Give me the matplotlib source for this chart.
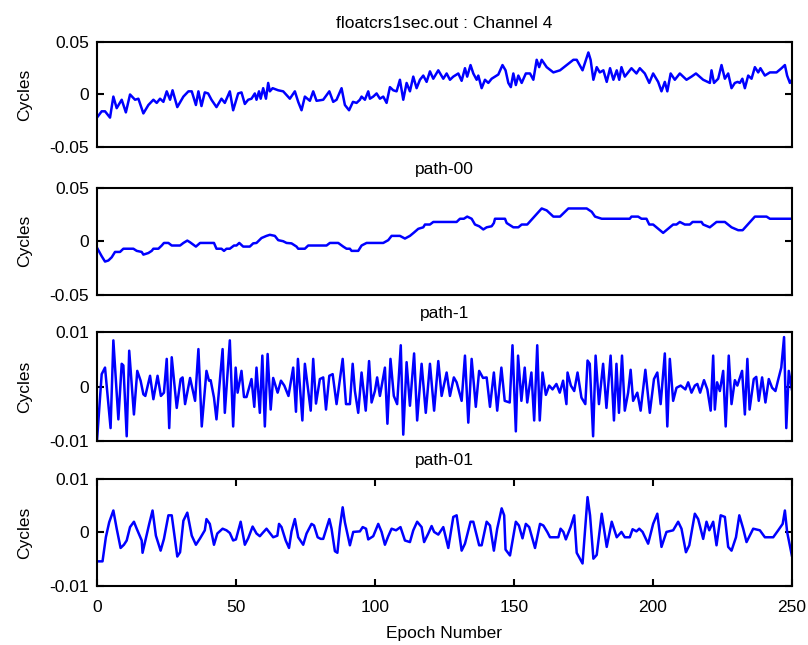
import numpy as np
import matplotlib
matplotlib.use('Agg')
import matplotlib.pyplot as plt

# values (epoch, cycles)
ep1 = [0, 1.7, 2.9, 4.7, 5.9, 7.1, 8.9, 10.4, 11.9, 13.7,
       14.9, 16.7, 18.5, 20.3, 21.5, 22.7, 23.9, 25.1, 26.3, 27.2,
       28.9, 31.1, 32.9, 34.1, 35.6, 36.5, 37.6, 38.8, 40.0, 41.2,
       43.0, 44.8, 46.0, 47.8, 49.0, 50.8, 52.0, 53.2, 54.4, 55.6,
       56.8, 57.4, 58.3, 58.9, 59.8, 60.8, 61.6, 62.2, 63.2, 65.2,
       67.0, 69.4, 71.2, 72.4, 73.6, 74.8, 76.6, 77.8, 79.0, 81.4,
       83.6, 85.0, 86.2, 88.0, 89.2, 90.7, 92.1, 93.4, 94.6, 95.2,
       96.4, 97.6, 98.2, 99.4, 100.6, 101.8, 103.0, 104.2, 105.4, 106.6,
       107.8, 109.0, 110.2, 111.4, 112.6, 113.8, 115.0, 116.2, 117.4, 118.6,
       119.8, 121.0, 122.8,
       124.6, 125.8, 127.0, 128.2, 130.0, 131.2, 132.4, 133.2, 134.4, 135.4,
       136.6, 137.2, 138.4, 139.6, 140.8, 142.0, 143.2, 144.4, 145.9, 147.0,
       148.0, 148.9, 149.8, 150.7, 151.6, 152.8, 154.3, 155.8, 157.0, 158.2,
       159.1, 160.0, 161.8, 164.2, 166.6, 169.0, 171.4, 172.6, 174.7, 176.8,
       177.6, 178.6, 179.8, 180.9, 182.2, 183.4, 184.6, 185.8, 187.0, 187.9,
       188.7, 189.9, 191.1, 192.3, 194.1, 195.3, 197.1, 198.7, 200.1, 201.9,
       203.1, 204.3, 205.2, 206.4, 207.9, 209.7, 212.1, 213.9, 215.5, 218.1,
       220.5, 221.1, 222.0, 223.5, 224.7, 225.9, 227.1, 228.3, 229.5, 230.5,
       231.3, 232.2, 233.1, 234.3, 235.5, 236.7, 237.9, 238.7, 240.3, 242.1,
       244.5, 246.3, 247.5, 248.3, 249.3, 250]
cyc1 = [-0.022, -0.016, -0.016, -0.022, -0.002, -0.013, -0.005, -0.017, 0.000, -0.005,
        -0.004, -0.018, -0.010, -0.005, -0.008, -0.004, -0.007, 0.003, -0.005, 0.004,
        -0.012, -0.002, 0.003, 0.003, -0.010, 0.003, -0.011, 0.002, 0.001, -0.005,
        -0.012, -0.004, -0.008, 0.003, -0.015, 0.001, 0.002, -0.009, -0.005, -0.004,
        0.001, -0.005, 0.003, -0.004, 0.006, -0.004, 0.011, 0.003, 0.006, 0.004,
        0.003, -0.004, 0.003, -0.007, -0.015, -0.002, -0.006, 0.003, -0.006, -0.005,
        0.003, -0.007, -0.005, 0.006, -0.010, -0.015, -0.007, -0.008, -0.005, -0.002,
        -0.005, 0.003, -0.004, -0.002, 0.001, -0.004, -0.002, -0.008, 0.007, 0.004,
        0.003, 0.014, -0.005, 0.011, 0.003, 0.017, 0.006, 0.014, 0.018, 0.012,
        0.022, 0.015, 0.023,
        0.015, 0.020, 0.014, 0.017, 0.020, 0.013, 0.025, 0.017, 0.028, 0.020,
        0.014, 0.018, 0.006, 0.014, 0.011, 0.015, 0.017, 0.019, 0.028, 0.023,
        0.011, 0.007, 0.020, 0.009, 0.018, 0.011, 0.020, 0.020, 0.014, 0.033,
        0.026, 0.033, 0.026, 0.021, 0.023, 0.028, 0.033, 0.033, 0.023, 0.040,
        0.033, 0.014, 0.026, 0.021, 0.023, 0.012, 0.025, 0.014, 0.023, 0.014,
        0.026, 0.017, 0.021, 0.025, 0.020, 0.025, 0.020, 0.011, 0.020, 0.012,
        0.003, 0.012, 0.003, 0.020, 0.014, 0.020, 0.014, 0.017, 0.020, 0.014,
        0.011, 0.023, 0.011, 0.015, 0.028, 0.015, 0.020, 0.006, 0.011, 0.012,
        0.011, 0.015, 0.006, 0.018, 0.015, 0.026, 0.021, 0.025, 0.018, 0.021,
        0.021, 0.025, 0.028, 0.018, 0.011, 0.014]

ep2 = [0, 1.7, 2.9, 4.1, 5.3, 6.5, 8.3, 9.5, 13.1, 14.3,
       16.1, 16.7, 18.5, 19.7, 20.3, 22.1, 23.3, 24.1, 25.7, 26.9,
       29.9, 31.1, 32.5, 33.5, 35.6, 37.1, 42.1, 43.0, 44.8, 45.7,
       46.6, 47.8, 49.3, 50.2, 51.2, 52.6, 55.0, 56.2, 57.4, 59.2,
       61.0, 62.2, 64.0, 65.2, 67.0, 68.2, 70.0, 71.8, 72.4, 74.8,
       76.0, 82.6, 83.8, 86.8, 88.6, 89.8, 91.0, 91.6, 94.0, 95.2,
       97.0, 103.0, 104.8, 106.0, 109.0, 110.8, 112.6, 114.0, 115.6, 117.4,
       118.0, 119.8, 121.0,
       129.4, 130.6, 132.0, 133.2, 134.8, 136.0, 137.5, 139.0, 140.2, 142.0,
       142.8, 143.2, 146.8, 147.4, 149.8, 151.6, 152.8, 154.8, 160.0, 161.8,
       164.2, 166.6, 169.6, 176.2, 178.0, 179.2, 181.6, 191.7, 192.3, 194.7,
       195.9, 197.7, 198.7, 200.1, 203.7, 207.3, 208.5, 209.7, 211.5, 213.3,
       214.3, 217.5, 218.1, 220.5, 222.9, 225.9, 228.3, 230.7, 232.3, 236.7,
       240.9, 242.1, 250]
cyc2 = [-0.006, -0.014, -0.019, -0.018, -0.015, -0.010, -0.010, -0.007, -0.007, -0.009,
        -0.010, -0.0125, -0.011, -0.009, -0.007, -0.007, -0.004, -0.0016, -0.0016, -0.004,
        -0.004, -0.0016, 0.0006, -0.001, -0.005, -0.0016, -0.0016, -0.007, -0.007, -0.009,
        -0.007, -0.007, -0.004, -0.004, -0.0016, -0.005, -0.005, -0.002, -0.0016, 0.003,
        0.005, 0.006, 0.005, 0.001, 0.000, -0.0016, -0.002, -0.005, -0.007, -0.007,
        -0.004, -0.004, -0.0016, -0.0016, -0.005, -0.007, -0.007, -0.009, -0.009, -0.004,
        -0.0016, -0.0016, 0.001, 0.005, 0.005, 0.0025, 0.005, 0.008, 0.0116, 0.013,
        0.0156, 0.0156, 0.018,
        0.018, 0.021, 0.021, 0.023, 0.021, 0.0156, 0.014, 0.011, 0.013, 0.014,
        0.017, 0.021, 0.021, 0.017, 0.013, 0.013, 0.0156, 0.0156, 0.0306, 0.0288,
        0.023, 0.023, 0.0306, 0.0306, 0.0275, 0.023, 0.021, 0.021, 0.023, 0.023,
        0.021, 0.021, 0.0156, 0.0156, 0.0078, 0.0156, 0.0156, 0.018, 0.0156, 0.0156,
        0.018, 0.018, 0.0156, 0.013, 0.018, 0.018, 0.013, 0.0103, 0.0103, 0.023,
        0.023, 0.021, 0.021]

ep3 = [0, 1.7, 2.9, 4.9, 5.9, 7.7, 8.9, 9.5, 10.7, 11.6,
       13.3, 14.5, 15.7, 16.7, 17.4, 19.1, 20.3, 21.8, 23.0, 24.1,
       25.1, 26.0, 26.9, 28.7, 30.1, 30.8, 31.7, 33.5, 35.3, 36.5,
       37.7, 39.4, 40.3, 40.9, 42.1, 43.0, 45.2, 46.0, 47.8, 49.0,
       49.9, 50.6, 52.0, 52.9, 53.8, 55.6, 56.6, 57.4, 58.6, 59.5,
       60.4, 61.4, 62.5, 63.4, 65.0, 66.2, 67.4, 68.9, 70.6, 71.6,
       72.3, 73.9, 74.8, 76.9, 77.8, 78.8, 80.2, 81.4, 82.4, 83.6,
       84.8, 86.2, 88.4, 89.6, 91.0, 92.0, 92.8, 94.0, 95.2, 96.7,
       97.9, 98.8, 100.0, 100.8, 101.8, 103.6, 104.5, 105.6, 106.8, 108.0,
       109.3, 110.2, 111.4, 112.6, 114.1, 115.2, 116.8, 118.3, 119.8, 121.3,
       122.8, 124.0, 125.8, 127.0, 128.4, 129.4, 131.2, 132.4, 133.6, 134.8,
       136.3, 137.5, 138.9, 140.2, 141.4, 142.8, 144.0, 145.5, 146.7, 148.5,
       149.5, 150.7, 151.5, 152.7, 153.9, 154.8, 156.3, 157.3, 158.4, 159.3,
       160.3, 161.5, 162.7, 163.9, 165.3, 166.5, 167.7, 168.9, 169.3, 170.5,
       171.7, 172.9, 174.3, 175.7, 176.5, 177.3, 178.5, 179.4, 180.6, 182.1,
       183.3, 184.8, 186.0, 186.9, 187.8, 188.9, 189.9, 191.1, 192.0, 192.9,
       194.4, 195.6, 197.3, 198.9, 200.4, 201.6, 202.8, 204.3, 205.2, 206.1,
       207.3, 208.5, 210.0, 211.7, 212.7, 213.9, 215.1, 216.0, 217.0, 218.4,
       219.6, 220.8, 221.7, 222.3, 223.1, 224.1, 225.3, 226.2, 227.3, 228.3,
       229.5, 230.4, 232.1, 233.1, 234.0, 234.8, 236.3, 237.2, 238.1, 239.3,
       240.5, 241.7, 242.9, 244.1, 245.0, 246.2, 247.2, 248.0, 248.9, 250]
cyc3 = [-0.0100, 0.0023, 0.0035, -0.0076, 0.0085, -0.0060, 0.0042, 0.0039, -0.0091, 0.0066,
        -0.0051, 0.0029, 0.0011, -0.0014, -0.0017, 0.0020, -0.0023, 0.0020, -0.0017, -0.0011,
        0.0051, -0.0076, 0.0054, -0.0039, 0.0014, 0.0017, -0.0032, 0.0016, -0.0026, 0.0069,
        -0.0073, 0.0029, 0.0011, 0.0012, -0.0020, -0.0060, 0.0069, -0.0048, 0.0085, -0.0073,
        0.0035, -0.0011, 0.0029, -0.0019, -0.0019, 0.0014, -0.0037, 0.0035, -0.0048, 0.0057,
        -0.0073, 0.0060, -0.0042, 0.0016, -0.0011, 0.0011, 0.0002, -0.0017, 0.0035, -0.0046,
        0.0051, -0.0062, 0.0042, -0.0044, 0.0051, -0.0031, 0.0014, 0.0017, -0.0042, 0.0020,
        0.0023, -0.0032, 0.0051, -0.0032, -0.0032, 0.0042, -0.0008, -0.0048, 0.0026, -0.0044,
        0.0047, -0.0029, -0.0008, 0.0017, -0.0017, 0.0035, -0.0068, 0.0051, -0.0017, -0.0032,
        0.0076, -0.0088, 0.0045, -0.0035, 0.0061, -0.0062, 0.0042, -0.0048, 0.0042, -0.0044,
        0.0047, -0.0017, 0.0026, -0.0017, 0.0017, 0.0008, -0.0026, 0.0057, -0.0066, 0.0051,
        -0.0037, 0.0029, 0.0016, 0.0017, -0.0037, 0.0026, -0.0044, 0.0035, -0.0026, -0.0029,
        0.0076, -0.0082, 0.0057, -0.0026, 0.0035, -0.0029, 0.0026, -0.0062, 0.0076, -0.0062,
        0.0026, -0.0015, 0.0002, -0.0005, 0.0005, -0.0011, 0.0011, -0.0032, 0.0026, 0.0002,
        -0.0008, 0.0026, -0.0020, -0.0032, 0.0048, 0.0042, -0.0091, 0.0057, -0.0032, 0.0042,
        -0.0039, 0.0057, -0.0062, 0.0042, -0.0048, 0.0057, -0.0044, -0.0011, 0.0031, -0.0026,
        -0.0011, -0.0044, 0.0031, -0.0048, 0.0014, 0.0026, -0.0032, 0.0061, -0.0073, 0.0051,
        -0.0026, -0.0002, 0.0002, -0.0005, 0.0008, -0.0011, 0.0002, 0.0005, -0.0011, 0.0012,
        -0.0005, -0.0044, 0.0057, -0.0042, 0.0008, -0.0008, 0.0029, -0.0073, 0.0057, -0.0032,
        0.0012, 0.0002, 0.0029, -0.0051, 0.0051, -0.0042, 0.0014, 0.0018, -0.0026, 0.0017,
        -0.0029, 0.0014, -0.0002, -0.0008, 0.0011, 0.0035, 0.0091, -0.0076, 0.0029, -0.0005]

ep4 = [0, 2.0, 3.2, 4.4, 5.9, 7.1, 8.5, 9.7, 10.7, 11.9,
       13.3, 14.3, 15.2, 16.1, 16.4, 17.6, 18.8, 20.0, 21.2, 22.9,
       24.1, 25.7, 26.9, 28.1, 28.9, 29.9, 31.1, 32.5, 34.1, 35.6,
       37.1, 38.8, 39.4, 40.6, 42.1, 43.3, 45.2, 46.6, 47.8, 49.0,
       50.0, 51.7, 53.2, 54.4, 56.0, 57.4, 58.6, 59.6, 61.0, 62.2,
       63.4, 64.9, 65.5, 66.4, 67.9, 69.1, 70.0, 71.2, 72.4, 74.2,
       75.4, 77.2, 78.1, 79.4, 80.5, 81.4, 83.6, 84.4, 85.6, 86.5,
       87.4, 88.4, 89.2, 91.0, 92.2, 94.6, 95.6, 96.8, 97.6, 99.4,
       101.2, 102.4, 103.6, 104.8, 106.0, 107.6, 109.2, 110.8, 112.6, 113.8,
       115.2, 116.8, 117.7, 119.2, 120.4, 121.3, 122.8,
       124.6, 126.4, 128.2, 129.4, 131.2, 132.4, 134.4, 135.4, 137.5, 138.4,
       140.2, 141.4, 142.8, 144.0, 145.6, 146.5, 147.0, 148.6, 150.7, 151.8,
       153.1, 154.3, 155.5, 157.6, 159.4, 160.6, 162.0, 163.0, 166.0, 166.8,
       167.8, 168.7, 170.4, 171.7, 172.6, 174.7, 176.5, 177.4, 178.6, 179.8,
       181.6, 182.4, 183.4, 185.2, 187.0, 188.7, 189.9, 191.7, 192.7, 194.1,
       195.1, 196.3, 198.3, 200.1, 201.6, 203.1, 204.9, 207.3, 209.1, 210.3,
       211.9, 213.1, 215.1, 216.3, 218.1, 219.3, 220.3, 221.7, 222.9, 224.4,
       225.9, 227.1, 228.3, 229.9, 231.1, 232.5, 233.7, 236.1, 238.5, 240.3,
       243.3, 245.1, 246.7, 247.5, 248.3, 250]
cyc4 = [-0.0054, -0.0054, -0.0009, 0.0019, 0.0041, 0.0007, -0.0029, -0.0023, -0.0015, 0.0010,
        0.0020, 0.0007, -0.0004, -0.0015, -0.0038, -0.0011, 0.0016, 0.0041, -0.0006, -0.0034,
        -0.0012, 0.0032, 0.0032, -0.0015, -0.0045, -0.0037, 0.0022, 0.0037, -0.0006, -0.0023,
        -0.0011, 0.0004, 0.0025, 0.0016, -0.0023, -0.0002, 0.0007, 0.0004, -0.0001, -0.0015,
        -0.0013, 0.0020, -0.0023, -0.0011, 0.0011, -0.0002, -0.0007, -0.0001, 0.0007, -0.0001,
        -0.0009, -0.0006, 0.0016, 0.0010, -0.0015, -0.0029, 0.0002, 0.0025, -0.0009, -0.0023,
        -0.0002, 0.0016, 0.0013, -0.0009, -0.0012, -0.0012, 0.0025, 0.0007, -0.0035, -0.0038,
        0.0010, 0.0047, 0.0019, -0.0024, 0.0001, 0.0002, 0.0010, 0.0007, -0.0013, -0.0007,
        0.0016, 0.0001, -0.0023, -0.0007, 0.0007, 0.0004, 0.0010, -0.0015, -0.0018, 0.0004,
        0.0020, 0.0010, -0.0018, -0.0002, 0.0012, 0.0001, -0.0004,
        0.0010, -0.0029, 0.0029, 0.0032, -0.0034, -0.0021, 0.0020, 0.0020, -0.0024, -0.0024,
        0.0020, 0.0013, -0.0034, 0.0007, 0.0045, 0.0032, -0.0032, -0.0043, 0.0020, 0.0013,
        -0.0011, 0.0016, 0.0010, -0.0029, 0.0016, 0.0013, 0.0001, -0.0009, -0.0009, 0.0007,
        0.0001, -0.0013, 0.0010, 0.0032, -0.0038, -0.0058, 0.0066, 0.0032, -0.0049, -0.0042,
        0.0035, 0.0007, -0.0027, 0.0020, -0.0009, 0.0001, -0.0009, -0.0009, 0.0006, 0.0002,
        0.0007, 0.0001, -0.0021, 0.0016, 0.0035, -0.0027, 0.0001, 0.0004, 0.0020, 0.0007,
        -0.0037, -0.0024, 0.0035, 0.0025, -0.0012, 0.0020, 0.0004, 0.0020, -0.0024, 0.0032,
        0.0029, -0.0027, -0.0034, -0.0009, 0.0032, 0.0007, -0.0018, 0.0007, 0.0004, -0.0009,
        -0.0009, 0.0004, 0.0016, 0.0041, 0.0001, -0.0043]

titles = ['floatcrs1sec.out : Channel 4', 'path-00', 'path-1', 'path-01']
ylims = [0.05, 0.05, 0.01, 0.01]
yticklabels = [['-0.05', '0', '0.05'], ['-0.05', '0', '0.05'],
               ['-0.01', '0', '0.01'], ['-0.01', '0', '0.01']]
xticks = [0, 50, 100, 150, 200, 250]

plt.rcParams['font.family'] = ['Liberation Sans', 'DejaVu Sans']
plt.rcParams['font.size'] = 12.5

fig = plt.figure(figsize=(8.08, 6.45), dpi=100)
# axes boxes in figure fractions (left, bottom, width, height)
boxes = [[0.120, 0.772, 0.860, 0.163],
         [0.120, 0.543, 0.860, 0.166],
         [0.120, 0.316, 0.860, 0.169],
         [0.120, 0.0915, 0.860, 0.166]]
series = [(ep1, cyc1), (ep2, cyc2), (ep3, cyc3), (ep4, cyc4)]

for i in range(4):
    ax = fig.add_axes(boxes[i])
    x, y = series[i]
    ax.plot(x, y, color='#0000ff', lw=1.8)
    ax.set_xlim(0, 250)
    lim = ylims[i]
    ax.set_ylim(-lim, lim)
    ax.set_yticks([-lim, 0, lim])
    ax.set_yticklabels(yticklabels[i])
    if i == 3:
        ax.set_xticks(xticks)
        ax.set_xlabel('Epoch Number', labelpad=8)
    else:
        ax.set_xticks([])
    ax.tick_params(direction='in', top=True, right=True, length=5, width=1.5,
                   labelsize=12.5)
    ax.tick_params(axis='y', pad=5.5)
    ax.tick_params(axis='x', pad=10)
    for s in ax.spines.values():
        s.set_linewidth(1.5)
    ax.set_title(titles[i], fontsize=12.5, pad=10)
    ax.set_ylabel('Cycles')
    ax.yaxis.set_label_coords(-0.094, 0.5)

fig.savefig('out.png', dpi=100, facecolor='white')
